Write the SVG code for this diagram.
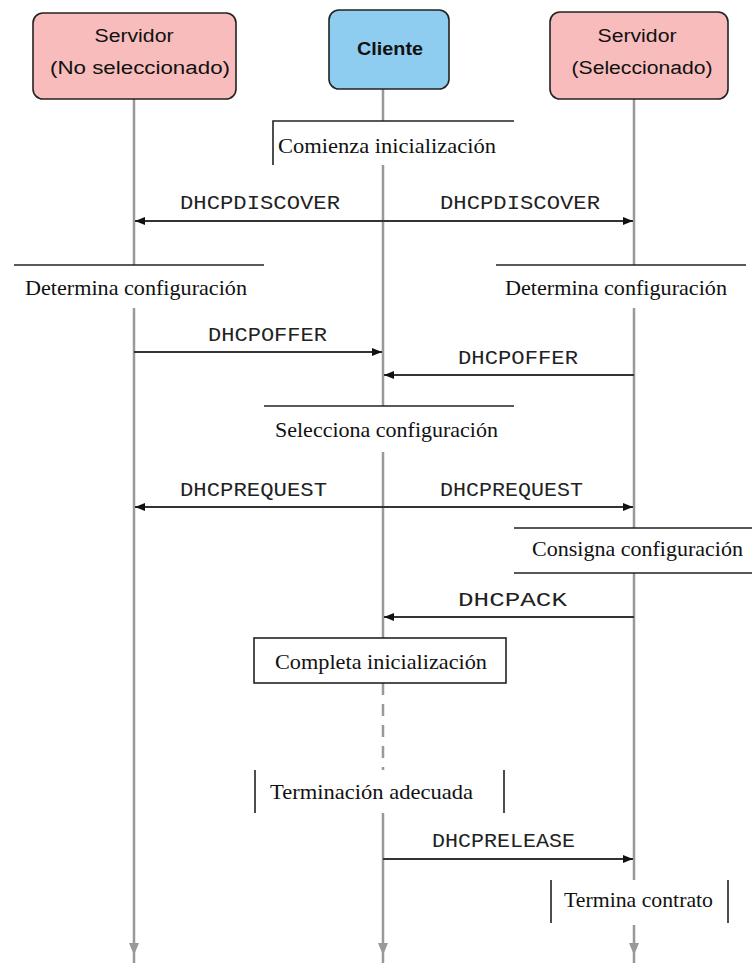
<svg xmlns="http://www.w3.org/2000/svg" width="752" height="963" viewBox="0 0 752 963">
<defs>
<style>
.hdr{font-family:"Liberation Sans",Arial,sans-serif;font-size:18px;fill:#111;text-anchor:middle}
.note{font-family:"Liberation Serif","Times New Roman",serif;font-size:21px;fill:#111}
.msg{font-family:"Liberation Mono","Courier New",monospace;font-size:21px;fill:#222}
.life{stroke:#999;stroke-width:2.5;fill:none}
.dash{stroke:#999;stroke-width:2.5;fill:none;stroke-dasharray:12 9}
.arr{stroke:#333;stroke-width:2;fill:none;marker-end:url(#ah)}
.edge{stroke:#222;stroke-width:1.6;fill:none}
.tip{fill:#999}
</style>
<marker id="ah" viewBox="0 0 10 8" refX="10" refY="4" markerWidth="10" markerHeight="8" markerUnits="userSpaceOnUse" orient="auto">
<path d="M0,0 L10,4 L0,8 z" fill="#111"/>
</marker>
</defs>
<rect width="752" height="963" fill="#fff"/>

<g id="lifelines">
<path class="life" d="M134,99 V265 M134,308 V963"/>
<path class="life" d="M383,89 V121 M383,165 V406 M383,452 V638"/>
<path class="dash" d="M383,683 V770"/>
<path class="life" d="M383,813 V963"/>
<path class="life" d="M634,99 V265 M634,308 V528 M634,573 V880 M634,925 V963"/>
<path class="tip" d="M129,943 H139 L134,955 z M378,943 H388 L383,955 z M629,943 H639 L634,955 z"/>
</g>

<g id="server-no-sel">
<rect x="33" y="13" width="203" height="86" rx="10" fill="#f8bcbc" stroke="#222" stroke-width="1.6"/>
<text class="hdr" x="134" y="42" textLength="79" lengthAdjust="spacingAndGlyphs">Servidor</text>
<text class="hdr" x="140" y="74" textLength="180" lengthAdjust="spacingAndGlyphs">(No seleccionado)</text>
</g>
<g id="cliente">
<rect x="329" y="10" width="120" height="79" rx="10" fill="#8ecdf0" stroke="#222" stroke-width="1.6"/>
<text class="hdr" x="390" y="55" font-weight="bold" textLength="66" lengthAdjust="spacingAndGlyphs">Cliente</text>
</g>
<g id="server-sel">
<rect x="550" y="12" width="178" height="87" rx="10" fill="#f8bcbc" stroke="#222" stroke-width="1.6"/>
<text class="hdr" x="637" y="42" textLength="79" lengthAdjust="spacingAndGlyphs">Servidor</text>
<text class="hdr" x="642" y="74" textLength="141" lengthAdjust="spacingAndGlyphs">(Seleccionado)</text>
</g>

<g id="note-comienza">
<path class="edge" d="M273,165 V121 H514"/>
<text class="note" x="278" y="153" textLength="218" lengthAdjust="spacingAndGlyphs">Comienza inicialización</text>
</g>
<g id="note-determina-izq">
<path class="edge" d="M14,265 H264"/>
<text class="note" x="25" y="295" textLength="222" lengthAdjust="spacingAndGlyphs">Determina configuración</text>
</g>
<g id="note-determina-der">
<path class="edge" d="M496,265 H746"/>
<text class="note" x="505" y="295" textLength="222" lengthAdjust="spacingAndGlyphs">Determina configuración</text>
</g>
<g id="note-selecciona">
<path class="edge" d="M264,406 H514"/>
<text class="note" x="275" y="437" textLength="223" lengthAdjust="spacingAndGlyphs">Selecciona configuración</text>
</g>
<g id="note-consigna">
<path class="edge" d="M514,528 H752 M514,573 H752"/>
<text class="note" x="532" y="556" textLength="211" lengthAdjust="spacingAndGlyphs">Consigna configuración</text>
</g>
<g id="note-completa">
<rect x="254" y="638" width="252" height="45" fill="#fff" stroke="#222" stroke-width="1.6"/>
<text class="note" x="275" y="669" textLength="212" lengthAdjust="spacingAndGlyphs">Completa inicialización</text>
</g>
<g id="note-terminacion">
<path class="edge" d="M255,770 V813 M504,770 V813"/>
<text class="note" x="270" y="799" textLength="203" lengthAdjust="spacingAndGlyphs">Terminación adecuada</text>
</g>
<g id="note-termina">
<path class="edge" d="M551,880 V923 M728,880 V923"/>
<text class="note" x="564" y="907" textLength="149" lengthAdjust="spacingAndGlyphs">Termina contrato</text>
</g>

<g id="connectors">
<line class="arr" x1="383" y1="221" x2="135" y2="221"/>
<line class="arr" x1="383" y1="221" x2="633" y2="221"/>
<line class="arr" x1="134" y1="352" x2="382" y2="352"/>
<line class="arr" x1="634" y1="375" x2="384" y2="375"/>
<line class="arr" x1="383" y1="507" x2="135" y2="507"/>
<line class="arr" x1="383" y1="507" x2="633" y2="507"/>
<line class="arr" x1="634" y1="617" x2="384" y2="617"/>
<line class="arr" x1="383" y1="859" x2="633" y2="859"/>
<text class="msg" x="180" y="209" textLength="160" lengthAdjust="spacingAndGlyphs">DHCPDISCOVER</text>
<text class="msg" x="440" y="209" textLength="160" lengthAdjust="spacingAndGlyphs">DHCPDISCOVER</text>
<text class="msg" x="208" y="341" textLength="119" lengthAdjust="spacingAndGlyphs">DHCPOFFER</text>
<text class="msg" x="458" y="364" textLength="120" lengthAdjust="spacingAndGlyphs">DHCPOFFER</text>
<text class="msg" x="180" y="496" textLength="147" lengthAdjust="spacingAndGlyphs">DHCPREQUEST</text>
<text class="msg" x="440" y="496" textLength="143" lengthAdjust="spacingAndGlyphs">DHCPREQUEST</text>
<text class="msg" x="458" y="606" textLength="109" lengthAdjust="spacingAndGlyphs">DHCPACK</text>
<text class="msg" x="432" y="847" textLength="143" lengthAdjust="spacingAndGlyphs">DHCPRELEASE</text>
</g>
</svg>
